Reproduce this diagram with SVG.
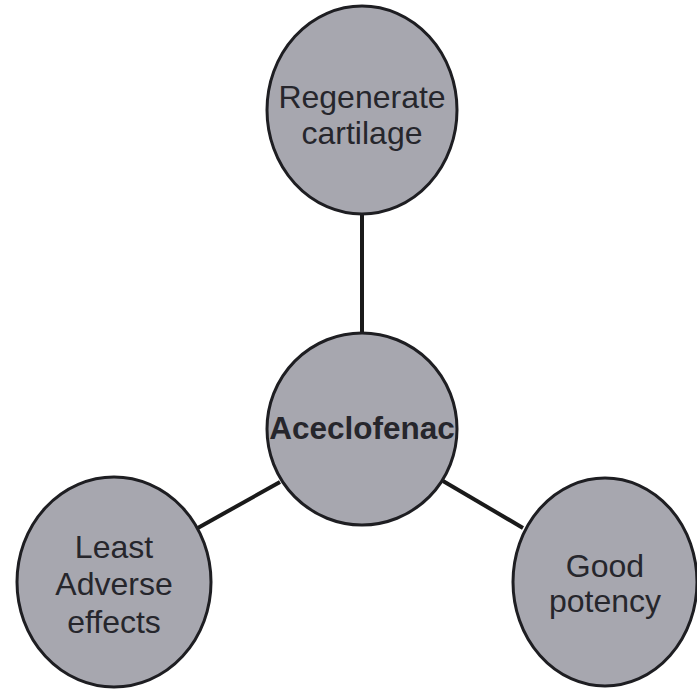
<svg xmlns="http://www.w3.org/2000/svg" width="697" height="690" viewBox="0 0 697 690">
<style>
.n{fill:#a7a7af;stroke:#1e1e22;stroke-width:3}
.t{font-family:"Liberation Sans",Arial,sans-serif;font-size:32px;fill:#26262c;text-anchor:middle}
.b{font-weight:bold;font-size:31.5px}
.c{stroke:#1a1a1a;stroke-width:4;fill:none}
</style>
<rect width="697" height="690" fill="#ffffff"/>
<g id="connectors">
<line class="c" x1="362" y1="214" x2="362" y2="334"/>
<line class="c" x1="196" y1="529" x2="280" y2="482"/>
<line class="c" x1="443" y1="481" x2="523" y2="528"/>
</g>
<g id="node-regenerate">
<ellipse class="n" cx="362" cy="110" rx="95" ry="104"/>
<text class="t" x="362" y="108">Regenerate</text>
<text class="t" x="362" y="144">cartilage</text>
</g>
<g id="node-aceclofenac">
<ellipse class="n" cx="362" cy="429" rx="95" ry="96"/>
<text class="t b" x="362" y="439">Aceclofenac</text>
</g>
<g id="node-least">
<ellipse class="n" cx="114" cy="582" rx="97" ry="105"/>
<text class="t" x="114" y="558">Least</text>
<text class="t" x="114" y="595">Adverse</text>
<text class="t" x="114" y="633">effects</text>
</g>
<g id="node-good">
<ellipse class="n" cx="605" cy="582" rx="92" ry="104"/>
<text class="t" x="605" y="577">Good</text>
<text class="t" x="605" y="612">potency</text>
</g>
</svg>
